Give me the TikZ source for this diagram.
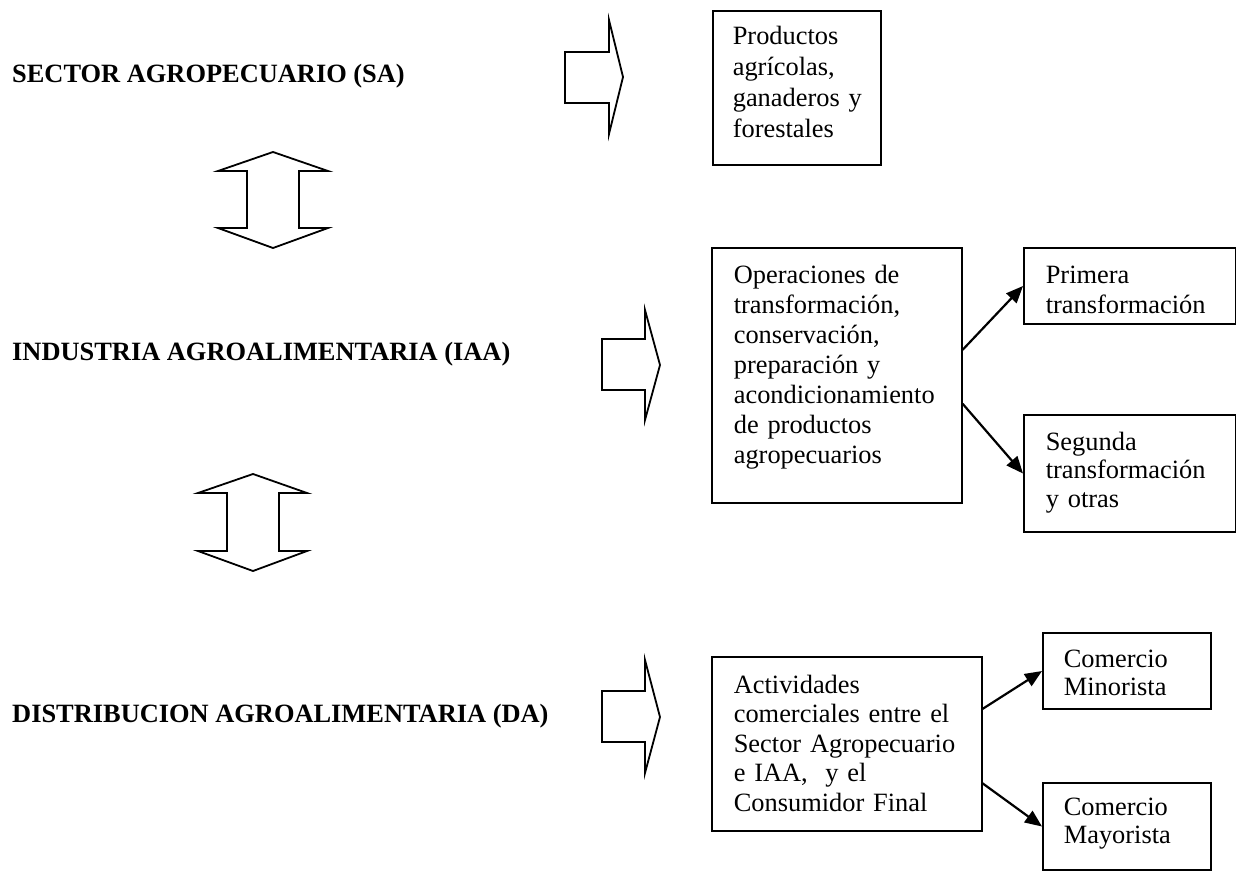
\documentclass[tikz,border=0pt]{standalone}
\usepackage{fontspec}
\setmainfont{Liberation Serif}
\usetikzlibrary{arrows.meta,calc}

\tikzset{
  x=1pt, y=-1pt,
  box/.style={draw, line width=1.6pt, anchor=base west, align=left,
    inner ysep=0pt, inner xsep=21pt,
    font=\fontsize{26.4}{30}\selectfont},
  sectorlabel/.style={anchor=base west, inner sep=0pt,
    font=\fontsize{26.4}{30}\selectfont\bfseries},
  blockarrow/.style={draw, line width=1.8pt, line join=miter},
  link/.style={line width=2.2pt, -{Triangle[length=17pt,width=14pt]}}
}

\begin{document}
\begin{tikzpicture}
\useasboundingbox (0,0) rectangle (1236,872);

% sector names
\node[sectorlabel] (sa)  at (12,83)  {SECTOR AGROPECUARIO (SA)};
\node[sectorlabel] (iaa) at (12,360) {INDUSTRIA AGROALIMENTARIA (IAA)};
\node[sectorlabel] (da)  at (12,722) {DISTRIBUCION AGROALIMENTARIA (DA)};

% block arrows towards the descriptions
\draw[blockarrow] (565,52) -- (609,52) -- (609,20) -- (623,77) -- (609,134)
  -- (609,103) -- (565,103) -- cycle;
\draw[blockarrow] (602,339) -- (645,339) -- (645,310) -- (660,365) -- (645,420)
  -- (645,390) -- (602,390) -- cycle;
\draw[blockarrow] (602,691) -- (645,691) -- (645,660) -- (660,717) -- (645,773)
  -- (645,742) -- (602,742) -- cycle;

% double arrows between the sectors
\draw[blockarrow] (273,152) -- (328,171) -- (299,171) -- (299,228) -- (328,228)
  -- (273,248) -- (218,228) -- (247,228) -- (247,171) -- (218,171) -- cycle;
\draw[blockarrow] (253,474) -- (307,493) -- (279,493) -- (279,551) -- (307,551)
  -- (253,571) -- (198,551) -- (227,551) -- (227,493) -- (198,493) -- cycle;

% description boxes
\node[box, inner xsep=20pt, text width=128pt, text height=34pt, text depth=120pt,
  font=\fontsize{26.4}{30.7}\selectfont] (prod) at (712,45)
  {Productos\\agrícolas,\\\mbox{ganaderos y}\\forestales};

\node[box, inner xsep=22pt, text width=206pt, text height=35pt, text depth=220pt] (ops) at (711,283)
  {Operaciones de\\transformación,\\conservación,\\preparación y\\acondicionamiento\\de productos\\agropecuarios};

\node[box, inner xsep=22pt, text width=168pt, text height=35pt, text depth=41pt] (prim) at (1023,283)
  {Primera\\transformación};

\node[box, inner xsep=22pt, text width=168pt, text height=35pt, text depth=82pt,
  font=\fontsize{26.4}{28.5}\selectfont] (seg) at (1023,450)
  {Segunda\\transformación\\y otras};

\node[box, inner xsep=22pt, text width=226pt, text height=36pt, text depth=138pt,
  font=\fontsize{26.4}{29.5}\selectfont] (act) at (711,693)
  {Actividades\\comerciales entre el\\Sector Agropecuario\\e IAA, \ y el\\Consumidor Final};

\node[box, text width=126pt, text height=34pt, text depth=42pt,
  font=\fontsize{26.4}{28}\selectfont] (mino) at (1042,667)
  {Comercio\\Minorista};

\node[box, text width=126pt, text height=32pt, text depth=55pt,
  font=\fontsize{26.4}{28}\selectfont] (mayo) at (1042,815)
  {Comercio\\Mayorista};

% connectors
\draw[link] ($(ops.north east)!0.4!(ops.south east)$) -- (prim.west);
\draw[link] ($(ops.north east)!0.61!(ops.south east)$) -- (seg.west);
\draw[link] ($(act.north east)!0.3!(act.south east)$) -- (mino.west);
\draw[link] ($(act.north east)!0.724!(act.south east)$) -- (mayo.west);
\end{tikzpicture}
\end{document}
